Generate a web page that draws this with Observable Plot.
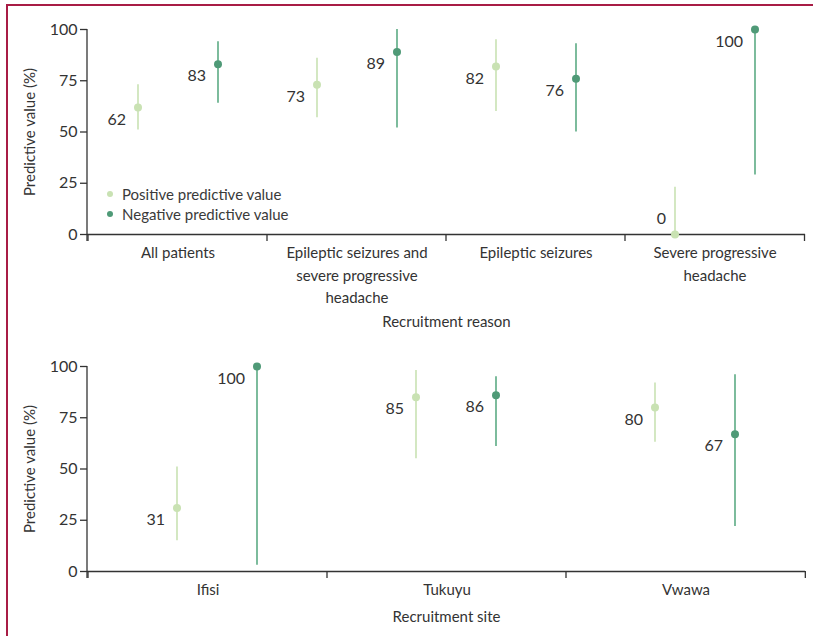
<!DOCTYPE html>
<html>
<head>
<meta charset="utf-8">
<script src="https://cdn.jsdelivr.net/npm/d3@7"></script>
<script src="https://cdn.jsdelivr.net/npm/@observablehq/plot@0.6"></script>
<style>
  body { margin: 0; background: #fff; }
  #wrap { position: relative; width: 813px; height: 636px; background: #fff; font-family: Lato, "Noto Sans", sans-serif; color: #333; }
  #border { position: absolute; left: 6px; top: 4px; right: 0; bottom: 0; border-left: 2px solid #a81c45; border-top: 2px solid #a81c45; }
  #topChart { position: absolute; left: 0; top: 0; }
  #bottomChart { position: absolute; left: 0; top: 345px; }
  #legend { position: absolute; left: 107px; top: 184px; font-size: 15px; color: #3a3a3a; }
  #legend .row { display: flex; align-items: center; height: 20px; }
  #legend .sw { width: 6px; height: 6px; border-radius: 50%; margin-right: 9px; }
</style>
</head>
<body>
<div id="wrap">
  <div id="border"></div>
  <div id="topChart"></div>
  <div id="bottomChart"></div>
  <div id="legend"></div>
</div>
<script>
// ---- Data ----
const seriesNames = ["Positive predictive value", "Negative predictive value"];
const seriesColors = ["#c9e2b3", "#4f9a77"];
const seriesLineColors = ["#c9e2b3", "#5cab84"];

const reasons = ["All patients", "Epileptic seizures and severe progressive headache", "Epileptic seizures", "Severe progressive headache"];
const reasonLabels = ["All patients", "Epileptic seizures and\nsevere progressive\nheadache", "Epileptic seizures", "Severe progressive\nheadache"];
const reasonPPV = [62, 73, 82, 0];
const reasonPPVLow = [51, 57, 60, 0];
const reasonPPVHigh = [73, 86, 95, 23];
const reasonNPV = [83, 89, 76, 100];
const reasonNPVLow = [64, 52, 50, 29];
const reasonNPVHigh = [94, 100, 93, 100];

const sites = ["Ifisi", "Tukuyu", "Vwawa"];
const siteLabels = ["Ifisi", "Tukuyu", "Vwawa"];
const sitePPV = [31, 85, 80];
const sitePPVLow = [15, 55, 63];
const sitePPVHigh = [51, 98, 92];
const siteNPV = [100, 86, 67];
const siteNPVLow = [3, 61, 22];
const siteNPVHigh = [100, 95, 96];

const yTicks = [0, 25, 50, 75, 100];
const yLabel = "Predictive value (%)";

// ---- Build rows ----
function rows(cats, ppv, ppvLo, ppvHi, npv, npvLo, npvHi) {
  const out = [];
  cats.forEach((c, i) => {
    out.push({cat: c, s: 0, v: ppv[i], lo: ppvLo[i], hi: ppvHi[i]});
    out.push({cat: c, s: 1, v: npv[i], lo: npvLo[i], hi: npvHi[i]});
  });
  return out;
}

const AX = "#333";

function axisFrame(cats) {
  return (index, scales, values, dims) => {
    const {width, marginLeft, marginRight} = dims;
    const x0 = marginLeft, x1 = width - marginRight;
    const step = (x1 - x0) / cats.length;
    const y0 = scales.y(0), yTop = scales.y(100);
    const g = d3.create("svg:g").attr("stroke", AX).attr("stroke-width", 1.3).attr("fill", "none");
    g.append("line").attr("x1", x0).attr("x2", x0).attr("y1", yTop).attr("y2", y0 + 7);
    const edges = cats.map(c => scales.x(c));
    edges.push(edges[edges.length - 1] + step);
    edges.forEach(e => {
      g.append("line").attr("x1", e).attr("x2", e).attr("y1", y0).attr("y2", y0 + 7);
    });
    return g.node();
  };
}

function chart({cats, labels, data, height, marginTop, marginBottom, offsets, xTitle, titleDy}) {
  const labelOf = new Map(cats.map((c, i) => [c, labels[i]]));
  const marks = [
    Plot.ruleY([0], {stroke: AX, strokeWidth: 1.3}),
    axisFrame(cats),
    Plot.axisY({ticks: yTicks, tickSize: 7, tickPadding: 3, fontSize: 16, label: null, stroke: AX, strokeWidth: 1.3, fill: AX}),
    Plot.text(cats, {x: d => d, text: d => labelOf.get(d), frameAnchor: "bottom", lineAnchor: "top", dy: 8, lineHeight: 1.5, fontSize: 15, fill: AX}),
    Plot.text([xTitle], {text: d => d, frameAnchor: "bottom", lineAnchor: "middle", textAnchor: "middle", dy: titleDy, fontSize: 15, fill: AX}),
    Plot.text([yLabel], {text: d => d, frameAnchor: "left", textAnchor: "middle", lineAnchor: "middle", rotate: -90, dx: -57, fontSize: 15, fill: AX})
  ];
  [0, 1].forEach(s => {
    const sd = data.filter(d => d.s === s);
    marks.push(Plot.ruleX(sd, {x: "cat", y1: "lo", y2: "hi", stroke: seriesLineColors[s], strokeWidth: 1.6, dx: offsets[s]}));
    marks.push(Plot.dot(sd, {x: "cat", y: "v", r: 4, fill: seriesColors[s], stroke: "none", dx: offsets[s]}));
    marks.push(Plot.text(sd.filter(d => d.v > 5), {x: "cat", y: "v", text: d => String(d.v), textAnchor: "end", dx: offsets[s] - 12, dy: 12, fontSize: 16, fill: AX}));
    marks.push(Plot.text(sd.filter(d => d.v <= 5), {x: "cat", y: "v", text: d => String(d.v), textAnchor: "end", dx: offsets[s] - 9, dy: -16, fontSize: 16, fill: AX}));
  });
  return Plot.plot({
    width: 813,
    height,
    marginLeft: 87,
    marginRight: 8,
    marginTop,
    marginBottom,
    style: {fontFamily: "Lato, 'Noto Sans', sans-serif", color: AX, background: "transparent"},
    x: {type: "band", domain: cats, padding: 0, axis: null},
    y: {domain: [0, 100], axis: null},
    marks
  });
}

document.getElementById("topChart").appendChild(chart({
  cats: reasons, labels: reasonLabels,
  data: rows(reasons, reasonPPV, reasonPPVLow, reasonPPVHigh, reasonNPV, reasonNPVLow, reasonNPVHigh),
  height: 345, marginTop: 29, marginBottom: 111, offsets: [-40, 40],
  xTitle: "Recruitment reason", titleDy: 88
}));

document.getElementById("bottomChart").appendChild(chart({
  cats: sites, labels: siteLabels,
  data: rows(sites, sitePPV, sitePPVLow, sitePPVHigh, siteNPV, siteNPVLow, siteNPVHigh),
  height: 291, marginTop: 21, marginBottom: 65, offsets: [-31, 49],
  xTitle: "Recruitment site", titleDy: 46
}));

// Legend
const legend = d3.select("#legend");
seriesNames.forEach((name, i) => {
  const row = legend.append("div").attr("class", "row");
  row.append("span").attr("class", "sw").style("background", seriesColors[i]);
  row.append("span").text(name);
});
</script>
</body>
</html>
